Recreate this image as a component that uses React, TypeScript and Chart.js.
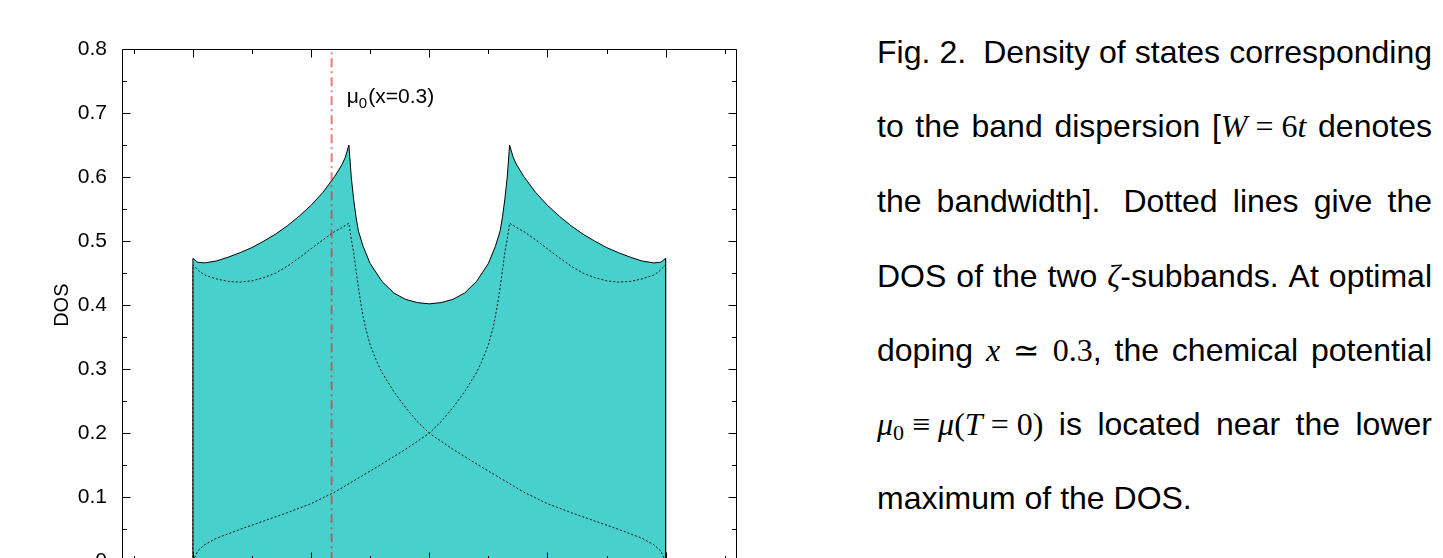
import React, { useEffect, useRef } from 'react';
import { Chart, registerables } from 'chart.js';
Chart.register(...registerables);

// ---- data ----
const totalX = [-1, -1, -0.98, -0.95, -0.9, -0.85, -0.8, -0.75, -0.7, -0.65, -0.6, -0.55, -0.5, -0.45, -0.4, -0.37, -0.355, -0.34, -0.335, -0.33, -0.32, -0.31, -0.3, -0.28, -0.25, -0.2, -0.15, -0.1, -0.05, 0, 0.05, 0.1, 0.15, 0.2, 0.25, 0.28, 0.3, 0.31, 0.32, 0.33, 0.335, 0.34, 0.355, 0.37, 0.4, 0.45, 0.5, 0.55, 0.6, 0.65, 0.7, 0.75, 0.8, 0.85, 0.9, 0.95, 0.98, 1, 1];
const totalY = [0, 0.473, 0.467, 0.466, 0.469, 0.475, 0.482, 0.49, 0.5, 0.511, 0.524, 0.539, 0.556, 0.576, 0.601, 0.619, 0.631, 0.65, 0.625, 0.6, 0.566, 0.538, 0.516, 0.492, 0.465, 0.437, 0.419, 0.409, 0.404, 0.402, 0.404, 0.409, 0.419, 0.437, 0.465, 0.492, 0.516, 0.538, 0.566, 0.6, 0.625, 0.65, 0.631, 0.619, 0.601, 0.576, 0.556, 0.539, 0.524, 0.511, 0.5, 0.49, 0.482, 0.475, 0.469, 0.466, 0.467, 0.473, 0];

// subband peaked at the lower energy side
const subBX = [-1, -1, -0.97, -0.95, -0.9, -0.85, -0.8, -0.75, -0.7, -0.65, -0.6, -0.55, -0.5, -0.45, -0.4, -0.37, -0.34, -0.335, -0.33, -0.32, -0.31, -0.3, -0.29, -0.28, -0.27, -0.25, -0.22, -0.2, -0.15, -0.1, -0.05, 0, 0.1, 0.2, 0.3, 0.4, 0.5, 0.6, 0.7, 0.8, 0.9, 0.95, 0.98, 1];
const subBY = [0, 0.463, 0.452, 0.447, 0.441, 0.437, 0.436, 0.438, 0.443, 0.45, 0.461, 0.474, 0.488, 0.502, 0.515, 0.521, 0.528, 0.515, 0.503, 0.483, 0.455, 0.428, 0.404, 0.383, 0.365, 0.338, 0.31, 0.295, 0.265, 0.24, 0.218, 0.2, 0.175, 0.152, 0.13, 0.108, 0.09, 0.076, 0.063, 0.05, 0.036, 0.026, 0.016, 0];

// subband peaked at the upper energy side
const subAX = [-1, -0.98, -0.95, -0.9, -0.8, -0.7, -0.6, -0.5, -0.4, -0.3, -0.2, -0.1, 0, 0.05, 0.1, 0.15, 0.2, 0.22, 0.25, 0.27, 0.28, 0.29, 0.3, 0.31, 0.32, 0.33, 0.335, 0.34, 0.37, 0.4, 0.45, 0.5, 0.55, 0.6, 0.65, 0.7, 0.75, 0.8, 0.85, 0.9, 0.95, 0.97, 1, 1];
const subAY = [0, 0.016, 0.026, 0.036, 0.05, 0.063, 0.076, 0.09, 0.108, 0.13, 0.152, 0.175, 0.2, 0.218, 0.24, 0.265, 0.295, 0.31, 0.338, 0.365, 0.383, 0.404, 0.428, 0.455, 0.483, 0.503, 0.515, 0.528, 0.521, 0.515, 0.502, 0.488, 0.474, 0.461, 0.45, 0.443, 0.438, 0.436, 0.437, 0.441, 0.447, 0.452, 0.463, 0];

const mu0X = -0.413;
const mu0Label = 'μ';
const mu0Sub = '0';
const mu0Rest = '(x=0.3)';

const yMajorTicks = [0, 0.1, 0.2, 0.3, 0.4, 0.5, 0.6, 0.7, 0.8];
const yMinorTicks = [0.05, 0.15, 0.25, 0.35, 0.45, 0.55, 0.65, 0.75];
const xMajorTicks = [-1, -0.5, 0, 0.5, 1];
const xMinorTicks = [-1.25, -0.75, -0.25, 0.25, 0.75, 1.25];

const zip = (xs: number[], ys: number[]) => xs.map((x, i) => ({ x, y: ys[i] }));

const FONT = '"Liberation Sans", Arial, Helvetica, sans-serif';
const MATH = '"Liberation Serif", "DejaVu Serif", serif';

const framePlugin = {
  id: 'frame',
  afterDatasetsDraw(chart: any) {
    const { ctx, chartArea, scales } = chart;
    const { left, right, top, bottom } = chartArea;
    const xs = scales.x;
    const ys = scales.y;
    ctx.save();
    ctx.strokeStyle = '#000';
    ctx.lineWidth = 1;
    const L = Math.round(left) + 0.5;
    const R = Math.round(right) - 0.5;
    const T = Math.round(top) + 0.5;
    const B = Math.round(bottom) - 0.5;
    ctx.beginPath();
    ctx.moveTo(L, B + 20);
    ctx.lineTo(L, T);
    ctx.lineTo(R, T);
    ctx.lineTo(R, B + 20);
    ctx.moveTo(L, B);
    ctx.lineTo(R, B);
    const major = 8;
    const minor = 4.5;
    const yTick = (v: number, len: number) => {
      const p = Math.round(ys.getPixelForValue(v)) + 0.5;
      ctx.moveTo(L, p); ctx.lineTo(L + len, p);
      ctx.moveTo(R, p); ctx.lineTo(R - len, p);
    };
    const xTick = (v: number, len: number) => {
      const p = Math.round(xs.getPixelForValue(v)) + 0.5;
      ctx.moveTo(p, T); ctx.lineTo(p, T + len);
      ctx.moveTo(p, B); ctx.lineTo(p, B - len);
    };
    yMajorTicks.forEach(v => yTick(v, major));
    yMinorTicks.forEach(v => yTick(v, minor));
    xMajorTicks.forEach(v => xTick(v, major));
    xMinorTicks.forEach(v => xTick(v, minor));
    ctx.stroke();

    // mu0 label
    const lx = xs.getPixelForValue(-0.349);
    const ly = ys.getPixelForValue(0.727);
    ctx.fillStyle = '#000';
    ctx.textBaseline = 'alphabetic';
    ctx.textAlign = 'left';
    ctx.font = `21px ${FONT}`;
    const base = ly + 7.5;
    ctx.fillText(mu0Label, lx, base);
    let w = ctx.measureText(mu0Label).width;
    ctx.font = `15px ${FONT}`;
    ctx.fillText(mu0Sub, lx + w, base + 5);
    w += ctx.measureText(mu0Sub).width + 1;
    ctx.font = `21px ${FONT}`;
    ctx.fillText(mu0Rest, lx + w, base);
    ctx.restore();
  },
};

function ChartView() {
  const ref = useRef<HTMLCanvasElement>(null);
  useEffect(() => {
    if (!ref.current) return;
    const chart = new Chart(ref.current, {
      type: 'line',
      data: {
        datasets: [
          {
            data: zip(totalX, totalY),
            borderColor: '#000',
            borderWidth: 1,
            backgroundColor: '#48D1CC',
            fill: 'origin',
            pointRadius: 0,
            tension: 0,
            order: 10,
          },
          {
            data: zip(subBX, subBY),
            borderColor: '#111',
            borderWidth: 1,
            borderDash: [2, 2],
            fill: false,
            pointRadius: 0,
            tension: 0,
            order: 2,
          },
          {
            data: zip(subAX, subAY),
            borderColor: '#111',
            borderWidth: 1,
            borderDash: [2, 2],
            fill: false,
            pointRadius: 0,
            tension: 0,
            order: 2,
          },
          {
            data: [{ x: mu0X, y: 0 }, { x: mu0X, y: 0.8 }],
            borderColor: 'rgba(215,45,45,0.62)',
            borderWidth: 2,
            borderDash: [9, 4, 2, 4],
            fill: false,
            pointRadius: 0,
            order: 0,
          },
        ],
      },
      options: {
        responsive: false,
        animation: false,
        devicePixelRatio: 1,
        layout: { padding: { left: 0, top: 49, right: 23.5, bottom: 78.7 } },
        plugins: { legend: { display: false }, tooltip: { enabled: false } },
        scales: {
          x: { type: 'linear', min: -1.3, max: 1.3, display: false },
          y: {
            type: 'linear',
            min: 0,
            max: 0.8,
            afterFit: (s: any) => { s.width = 122; },
            afterBuildTicks: (s: any) => { s.ticks = yMajorTicks.map(v => ({ value: v })); },
            ticks: {
              padding: 15,
              color: '#000',
              font: { family: FONT, size: 21 },
              callback: (v: any) => (Number(v) === 0 ? '0' : Number(v).toFixed(1)),
            },
            grid: { display: false, drawTicks: false },
            border: { display: false },
            title: {
              display: true,
              text: 'DOS',
              color: '#000',
              font: { family: FONT, size: 20 },
              padding: { top: 50, bottom: 0 },
            },
          },
        },
      },
      plugins: [framePlugin],
    } as any);
    return () => chart.destroy();
  }, []);
  return <canvas ref={ref} width={760} height={640} style={{ position: 'absolute', left: 0, top: 0, width: 760, height: 640 }} />;
}

const it = (s: string) => <span style={{ fontFamily: MATH, fontStyle: 'italic' }}>{s}</span>;
const rm = (s: string) => <span style={{ fontFamily: MATH }}>{s}</span>;

const lineTops = [32, 106, 181, 256, 330, 404, 478];

function Caption() {
  const base: React.CSSProperties = {
    position: 'absolute',
    left: 877,
    width: 555,
    fontFamily: FONT,
    fontSize: 32,
    lineHeight: '40px',
    color: '#000',
    whiteSpace: 'nowrap',
    display: 'flex',
    justifyContent: 'space-between',
  };
  const lines: React.ReactNode[][] = [
    [<span>Fig.</span>, <span>2.</span>, <span style={{ marginLeft: 8 }}>Density</span>, <span>of</span>, <span>states</span>, <span>corresponding</span>],
    [<span>to</span>, <span>the</span>, <span>band</span>, <span>dispersion</span>, <span>[{it('W')}{rm(' = 6')}{it('t')}</span>, <span>denotes</span>],
    [<span>the</span>, <span>bandwidth].</span>, <span style={{ marginLeft: 8 }}>Dotted</span>, <span>lines</span>, <span>give</span>, <span>the</span>],
    [<span>DOS</span>, <span>of</span>, <span>the</span>, <span>two</span>, <span>{it('ζ')}-subbands.</span>, <span>At</span>, <span>optimal</span>],
    [<span>doping</span>, <span>{it('x')}</span>, <span>{rm('≃')}</span>, <span>{rm('0.3')},</span>, <span>the</span>, <span>chemical</span>, <span>potential</span>],
    [<span>{it('μ')}<sub style={{ fontFamily: MATH, fontSize: 22, verticalAlign: '-5px', lineHeight: 0 }}>0</sub>{rm(' ≡ ')}{it('μ')}{rm('(')}{it('T')}{rm(' = 0)')}</span>, <span>is</span>, <span>located</span>, <span>near</span>, <span>the</span>, <span>lower</span>],
  ];
  return (
    <>
      {lines.map((ws, i) => (
        <div key={i} style={{ ...base, top: lineTops[i] }}>
          {ws.map((w, j) => <React.Fragment key={j}>{w}</React.Fragment>)}
        </div>
      ))}
      <div style={{ ...base, top: lineTops[6], display: 'block' }}>maximum of the DOS.</div>
    </>
  );
}

export default function App() {
  return (
    <div style={{ position: 'fixed', left: 0, top: 0, width: 1443, height: 558, overflow: 'hidden', background: '#fff' }}>
      <ChartView />
      <Caption />
    </div>
  );
}
